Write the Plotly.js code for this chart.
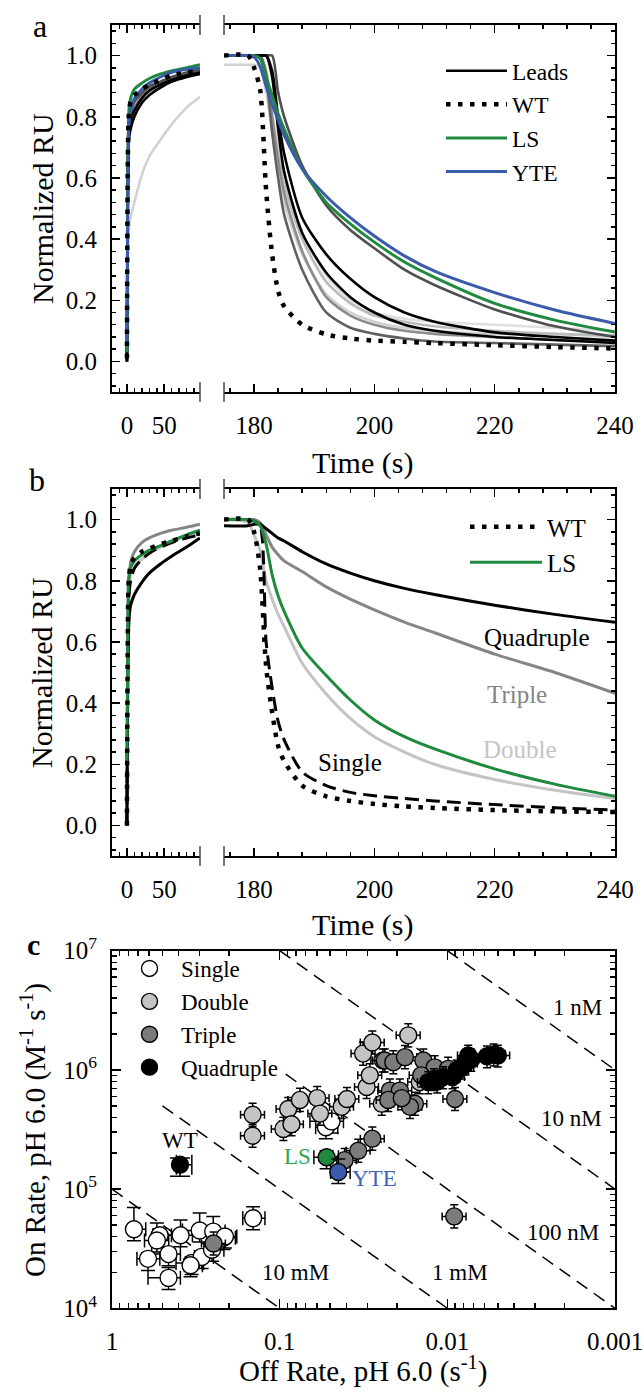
<!DOCTYPE html>
<html><head><meta charset="utf-8">
<script src="https://cdn.plot.ly/plotly-3.0.1.min.js"></script>
<style>
html,body{margin:0;padding:0;background:#fff}
#chart{width:643px;height:1395px}
</style>
</head><body><div id="chart"></div><script>
// ---------- time grids (s) ----------
const tAssoc  = [0, 1, 2, 3, 5, 10, 20, 30, 45, 60, 80, 98];
const tDissoc = [175, 179, 180, 181, 182, 183, 184, 185, 188, 192, 196, 200, 205, 210, 220, 230, 240];

// ---------- panel a : normalized RU ----------
const aWtAssoc   = [0.01, 0.60, 0.78, 0.82, 0.85, 0.87, 0.89, 0.905, 0.92, 0.935, 0.945, 0.95];
const aWtDissoc  = [1.0, 1.0, 0.96, 0.89, 0.56, 0.35, 0.23, 0.18, 0.12, 0.088, 0.075, 0.068, 0.064, 0.06, 0.053, 0.047, 0.042];
const aLsAssoc   = [0.03, 0.50, 0.78, 0.83, 0.86, 0.89, 0.91, 0.925, 0.94, 0.95, 0.96, 0.97];
const aLsDissoc  = [1.0, 1.0, 1.0, 0.99, 0.93, 0.87, 0.81, 0.76, 0.63, 0.52, 0.45, 0.39, 0.325, 0.275, 0.19, 0.135, 0.096];
const aYteAssoc  = [0.05, 0.45, 0.74, 0.78, 0.82, 0.86, 0.89, 0.91, 0.93, 0.945, 0.955, 0.96];
const aYteDissoc = [1.0, 1.0, 0.995, 0.965, 0.90, 0.84, 0.79, 0.74, 0.63, 0.54, 0.47, 0.41, 0.345, 0.295, 0.225, 0.168, 0.124];
const aLead1Assoc  = [0.0, 0.45, 0.68, 0.73, 0.76, 0.80, 0.845, 0.87, 0.895, 0.915, 0.93, 0.94];
const aLead1Dissoc = [1, 1, 1, 1, 1, 0.95, 0.80, 0.68, 0.47, 0.35, 0.27, 0.21, 0.16, 0.13, 0.095, 0.08, 0.068];
const aLead2Assoc  = [0.0, 0.50, 0.72, 0.76, 0.79, 0.82, 0.86, 0.885, 0.905, 0.92, 0.935, 0.945];
const aLead2Dissoc = [1, 1, 1, 1, 1, 0.93, 0.76, 0.62, 0.42, 0.29, 0.21, 0.16, 0.12, 0.10, 0.08, 0.07, 0.06];
const aLead3Assoc  = [0.0, 0.50, 0.74, 0.78, 0.81, 0.85, 0.88, 0.90, 0.915, 0.93, 0.945, 0.955];
const aLead3Dissoc = [1, 1, 1, 1, 1, 1, 0.88, 0.80, 0.64, 0.51, 0.43, 0.37, 0.30, 0.25, 0.17, 0.115, 0.08];
const aLead4Assoc  = [0.0, 0.55, 0.75, 0.79, 0.82, 0.85, 0.875, 0.895, 0.91, 0.925, 0.94, 0.95];
const aLead4Dissoc = [1, 1, 1, 1, 0.93, 0.75, 0.60, 0.48, 0.30, 0.16, 0.11, 0.09, 0.075, 0.065, 0.06, 0.055, 0.05];
const aLead5Assoc  = [0.0, 0.50, 0.72, 0.77, 0.80, 0.83, 0.865, 0.885, 0.90, 0.915, 0.93, 0.94];
const aLead5Dissoc = [1, 1, 1, 1, 0.95, 0.80, 0.66, 0.55, 0.36, 0.21, 0.15, 0.12, 0.10, 0.09, 0.08, 0.07, 0.065];
const aLead6Assoc  = [0.0, 0.28, 0.40, 0.44, 0.47, 0.52, 0.61, 0.67, 0.725, 0.775, 0.83, 0.865];
const aLead6Dissoc = [0.97, 0.97, 0.97, 0.96, 0.88, 0.75, 0.62, 0.52, 0.35, 0.22, 0.16, 0.13, 0.11, 0.10, 0.09, 0.09, 0.08];
const aLead7Assoc  = [0.0, 0.50, 0.70, 0.75, 0.79, 0.83, 0.86, 0.88, 0.90, 0.92, 0.935, 0.945];
const aLead7Dissoc = [1, 1, 1, 1, 0.94, 0.80, 0.68, 0.58, 0.40, 0.26, 0.19, 0.15, 0.13, 0.115, 0.10, 0.09, 0.085];
const aLead8Assoc  = [0.0, 0.50, 0.72, 0.77, 0.80, 0.84, 0.87, 0.89, 0.905, 0.92, 0.935, 0.945];
const aLead8Dissoc = [1, 1, 1, 1, 0.95, 0.82, 0.70, 0.60, 0.42, 0.28, 0.20, 0.16, 0.14, 0.13, 0.12, 0.11, 0.10];

// ---------- panel b ----------
const bWtAssoc      = [0.0, 0.55, 0.78, 0.82, 0.85, 0.875, 0.895, 0.905, 0.92, 0.93, 0.945, 0.955];
const bWtDissoc     = [1, 1, 0.96, 0.84, 0.52, 0.37, 0.26, 0.21, 0.13, 0.095, 0.08, 0.07, 0.062, 0.057, 0.05, 0.046, 0.044];
const bSingleAssoc  = [0.0, 0.50, 0.70, 0.76, 0.80, 0.84, 0.87, 0.89, 0.91, 0.925, 0.94, 0.95];
const bSingleDissoc = [1, 1, 0.995, 0.98, 0.60, 0.45, 0.34, 0.28, 0.175, 0.13, 0.108, 0.097, 0.088, 0.08, 0.068, 0.058, 0.05];
const bDoubleAssoc  = [0.0, 0.50, 0.72, 0.78, 0.82, 0.85, 0.87, 0.89, 0.91, 0.93, 0.945, 0.955];
const bDoubleDissoc = [1, 0.99, 0.95, 0.90, 0.80, 0.74, 0.69, 0.65, 0.53, 0.43, 0.35, 0.29, 0.24, 0.20, 0.15, 0.115, 0.088];
const bTripleAssoc  = [0.0, 0.45, 0.70, 0.80, 0.86, 0.895, 0.925, 0.94, 0.955, 0.965, 0.975, 0.985];
const bTripleDissoc = [1, 1, 1, 0.99, 0.95, 0.91, 0.885, 0.865, 0.83, 0.78, 0.74, 0.705, 0.665, 0.63, 0.56, 0.50, 0.432];
const bQuadAssoc    = [0.0, 0.45, 0.62, 0.68, 0.72, 0.755, 0.795, 0.825, 0.855, 0.88, 0.91, 0.94];
const bQuadDissoc   = [0.98, 0.98, 0.985, 0.985, 0.97, 0.955, 0.94, 0.93, 0.895, 0.855, 0.825, 0.80, 0.775, 0.755, 0.72, 0.69, 0.664];
const bLsAssoc      = [0.2, 0.55, 0.80, 0.82, 0.845, 0.865, 0.885, 0.90, 0.915, 0.93, 0.95, 0.965];
const bLsDissoc     = [1, 1, 0.995, 0.98, 0.92, 0.82, 0.75, 0.70, 0.58, 0.49, 0.41, 0.345, 0.29, 0.25, 0.185, 0.135, 0.095];

// ---------- panel c : kinetic rates ----------
const singleKoff    = [0.74, 0.61, 0.46, 0.46, 0.52, 0.39, 0.335, 0.30, 0.292, 0.253, 0.216, 0.249, 0.212, 0.144, 0.54, 0.34, 0.053, 0.049];
const singleKon     = [4.6e4, 2.6e4, 2.85e4, 1.8e4, 4.1e4, 4.1e4, 2.4e4, 4.5e4, 2.7e4, 3.1e4, 3.9e4, 4.4e4, 4.0e4, 5.7e4, 3.7e4, 2.3e4, 3.3e5, 3.7e5];
const singleKonErr  = [2.4e4, 0.3e4, 0.3e4, 0.4e4, 0.5e4, 1.4e4, 0.3e4, 1.8e4, 0.3e4, 0.4e4, 0.5e4, 1.5e4, 0.5e4, 1.4e4, 1.5e4, 0.3e4, 0.6e5, 0.4e5];
const singleKoffErr = [0.05, 0.10, 0.12, 0.15, 0.05, 0.14, 0.08, 0.08, 0.03, 0.03, 0.03, 0.06, 0.03, 0.022, 0.10, 0.03, 0.008, 0.017];
const doubleKoff = [0.145, 0.145, 0.095, 0.089, 0.085, 0.0757, 0.0597, 0.0575, 0.0427, 0.0397, 0.0303, 0.029, 0.0318, 0.028, 0.0246, 0.0242, 0.0171, 0.0146];
const doubleKon  = [4.2e5, 2.8e5, 3.2e5, 4.7e5, 3.5e5, 5.6e5, 5.8e5, 4.3e5, 4.9e5, 5.7e5, 7.2e5, 9.0e5, 1.37e6, 1.7e6, 5.2e5, 1.2e6, 1.95e6, 7.9e5];
const tripleKoff = [0.248, 0.028, 0.034, 0.041, 0.0236, 0.021, 0.0179, 0.0139, 0.0119, 0.0099, 0.0143, 0.022, 0.0192, 0.0225, 0.0156, 0.0167, 0.009, 0.0091, 0.0187];
const tripleKon  = [3.5e4, 2.65e5, 2.1e5, 1.75e5, 1.2e6, 1.16e6, 1.28e6, 1.2e6, 1.05e6, 1.02e6, 9.0e5, 6.7e5, 6.7e5, 5.6e5, 5.2e5, 4.9e5, 5.7e5, 5.9e4, 5.8e5];
const quadKoff   = [0.013, 0.012, 0.0115, 0.0106, 0.0093, 0.0088, 0.0082, 0.0078, 0.0075, 0.0072, 0.0058, 0.0053, 0.005];
const quadKon    = [7.9e5, 8.4e5, 8.0e5, 8.7e5, 8.7e5, 9.9e5, 1.05e6, 1.13e6, 1.32e6, 1.22e6, 1.3e6, 1.35e6, 1.32e6];
const wtKoff = [0.393], wtKon = [1.6e5];
const lsKoff = [0.0525], lsKon = [1.85e5];
const yteKoff = [0.0447], yteKon = [1.39e5];
// iso-affinity lines (KD, M) and the koff span where each is drawn
const kdValues    = [1e-9, 1e-8, 1e-7, 1e-6, 1e-5];
const kdKoffStart = [0.01, 0.1, 0.092, 0.5, 1];
const kdKoffEnd   = [0.001, 0.001, 0.001, 0.01, 0.1];
const kdLabels    = ['1 nM', '10 nM', '100 nM', '1 mM', '10 mM'];

// ---------- styling / layout helpers ----------
const FONT = '"Liberation Serif", "Times New Roman", Times, serif';
const W = 643, H = 1395;
const px = v => v / W, py = v => 1 - v / H;
const GREEN = '#1f8a3e', BLUE = '#3a5aab';
const L = {x0:112, x1:200, x2:224, x3:615, aTop:25, aBot:392, bTop:489, bBot:856, cTop:950.7, cBot:1308.3};

const traces = [];
function curve(x, y, xa, ya, color, width, dash, extra) {
  traces.push(Object.assign({x, y, xaxis: xa, yaxis: ya, mode: 'lines', type: 'scatter',
    line: {color, width, dash: dash || 'solid', shape: 'spline', smoothing: 0.7}, showlegend: false, hoverinfo: 'skip'}, extra || {}));
}
const DOT = '4.5px,7.5px';

// panel a
const aLeads = [
  [aLead6Assoc, aLead6Dissoc, '#d2d2d2'], [aLead8Assoc, aLead8Dissoc, '#e0e0e0'],
  [aLead7Assoc, aLead7Dissoc, '#bcbcbc'], [aLead5Assoc, aLead5Dissoc, '#8c8c8c'],
  [aLead4Assoc, aLead4Dissoc, '#606060'], [aLead3Assoc, aLead3Dissoc, '#4f4f4f'],
  [aLead2Assoc, aLead2Dissoc, '#000000'], [aLead1Assoc, aLead1Dissoc, '#000000']
];
aLeads.forEach((s, i) => {
  curve(tAssoc, s[0], 'x', 'y', s[2], 2.6);
  const leg = i === aLeads.length - 1 ? {showlegend: true, name: 'Leads', legend: 'legend', legendrank: 1} : {};
  curve(tDissoc, s[1], 'x2', 'y2', s[2], 2.6, null, leg);
});
curve(tAssoc, aLsAssoc, 'x', 'y', GREEN, 3);
curve(tDissoc, aLsDissoc, 'x2', 'y2', GREEN, 3, null, {showlegend: true, name: 'LS', legend: 'legend', legendrank: 3});
curve(tAssoc, aYteAssoc, 'x', 'y', BLUE, 3);
curve(tDissoc, aYteDissoc, 'x2', 'y2', BLUE, 3, null, {showlegend: true, name: 'YTE', legend: 'legend', legendrank: 4});
curve(tAssoc, aWtAssoc, 'x', 'y', '#000', 4.5, DOT);
curve(tDissoc, aWtDissoc, 'x2', 'y2', '#000', 4.5, DOT, {showlegend: true, name: 'WT', legend: 'legend', legendrank: 2});

// panel b
curve(tAssoc, bDoubleAssoc, 'x3', 'y3', '#c4c4c4', 3);
curve(tDissoc, bDoubleDissoc, 'x4', 'y4', '#c4c4c4', 3);
curve(tAssoc, bTripleAssoc, 'x3', 'y3', '#858585', 3);
curve(tDissoc, bTripleDissoc, 'x4', 'y4', '#858585', 3);
curve(tAssoc, bQuadAssoc, 'x3', 'y3', '#000', 3);
curve(tDissoc, bQuadDissoc, 'x4', 'y4', '#000', 3);
curve(tAssoc, bSingleAssoc, 'x3', 'y3', '#000', 3, '14px,7px');
curve(tDissoc, bSingleDissoc, 'x4', 'y4', '#000', 3, '14px,7px');
curve(tAssoc, bLsAssoc, 'x3', 'y3', GREEN, 3);
curve(tDissoc, bLsDissoc, 'x4', 'y4', GREEN, 3, null, {showlegend: true, name: 'LS', legend: 'legend2', legendrank: 2});
curve(tAssoc, bWtAssoc, 'x3', 'y3', '#000', 4.5, DOT);
curve(tDissoc, bWtDissoc, 'x4', 'y4', '#000', 4.5, DOT, {showlegend: true, name: 'WT', legend: 'legend2', legendrank: 1});

// panel c : KD lines
kdValues.forEach((kd, i) => {
  const xs = [kdKoffStart[i], kdKoffEnd[i]];
  traces.push({x: xs, y: xs.map(k => k / kd), xaxis: 'x5', yaxis: 'y5', mode: 'lines', type: 'scatter',
    line: {color: '#000', width: 1.5, dash: '13px,8px'}, showlegend: false, hoverinfo: 'skip'});
});
function pts(koff, kon, fill, name, konUp, koffUp, relK, relO, capW, show) {
  const ku = konUp || kon.map(v => v * relK);
  const ou = koffUp || koff.map(v => v * relO);
  traces.push({x: koff, y: kon, xaxis: 'x5', yaxis: 'y5', mode: 'markers', type: 'scatter', name,
    marker: {size: 17, color: fill, line: {color: '#000', width: 1.4}},
    error_y: {type: 'data', symmetric: false, array: ku, arrayminus: kon.map(v => v * 0.2), color: '#000', thickness: 1.5, width: capW},
    error_x: {type: 'data', symmetric: false, array: ou, arrayminus: koff.map(v => v * 0.15), color: '#000', thickness: 1.5, width: capW},
    showlegend: !!show, legend: 'legend3', hoverinfo: 'skip'});
}
pts(singleKoff, singleKon, '#ffffff', 'Single', singleKonErr, singleKoffErr, 0, 0, 7, true);
pts(doubleKoff, doubleKon, '#c4c4c4', 'Double', null, null, 0.25, 0.18, 4, true);
pts(tripleKoff, tripleKon, '#7b7b7b', 'Triple', null, null, 0.25, 0.18, 4, true);
pts(quadKoff, quadKon, '#000000', 'Quadruple', null, null, 0.22, 0.16, 4, true);
pts(wtKoff, wtKon, '#000000', 'WT', [2.2e4], [0.02], 0, 0, 10, false);
pts(lsKoff, lsKon, GREEN, 'LS', [2.5e4], [0.01], 0, 0, 7, false);
pts(yteKoff, yteKon, BLUE, 'YTE', [4e4], [0.005], 0, 0, 7, false);

// ---------- axes ----------
const tickFont = {family: FONT, size: 25, color: '#000'};
function ax(o) {
  return Object.assign({showline: true, linecolor: '#000', linewidth: 2, ticks: 'inside', ticklen: 8, tickwidth: 1.5,
    tickcolor: '#000', showgrid: false, zeroline: false, tickfont: tickFont, fixedrange: true, ticklabeloverflow: 'allow'}, o);
}
const minorLin = (tick0, dtick) => ({ticks: 'inside', ticklen: 4, tickwidth: 1.5, tickcolor: '#000', showgrid: false, tick0, dtick});
const decadesX = [0.001, 0.01, 0.1], decadesY = [1e4, 1e5, 1e6];
const mult = [2, 3, 4, 5, 6, 7, 8, 9];
const minorX = [].concat(...decadesX.map(d => mult.map(m => m * d)));
const minorY = [].concat(...decadesY.map(d => mult.map(m => m * d)));

const yRange = [-0.1, 1.1];
const layout = {
  width: W, height: H, margin: {l: 0, r: 0, t: 0, b: 0}, paper_bgcolor: '#fff', plot_bgcolor: 'rgba(0,0,0,0)',
  font: {family: FONT, color: '#000'},
  xaxis:  ax({domain: [px(L.x0), px(L.x1)], anchor: 'y', range: [-20, 98], tick0: 0, dtick: 50, mirror: 'ticks', minor: minorLin(0, 10), ticklabelstandoff: 10}),
  yaxis:  ax({domain: [py(L.aBot), py(L.aTop)], anchor: 'x', range: yRange, tick0: 0, dtick: 0.2, tickformat: '.1f', minor: minorLin(0, 0.04), ticklabelstandoff: 8}),
  xaxis2: ax({domain: [px(L.x2), px(L.x3)], anchor: 'y2', range: [175, 240], tick0: 180, dtick: 20, mirror: 'ticks', minor: minorLin(180, 4), ticklabelstandoff: 10}),
  yaxis2: ax({domain: [py(L.aBot), py(L.aTop)], anchor: 'x2', side: 'right', range: yRange, tick0: 0, dtick: 0.2, showticklabels: false, minor: minorLin(0, 0.04)}),
  xaxis3: ax({domain: [px(L.x0), px(L.x1)], anchor: 'y3', range: [-20, 98], tick0: 0, dtick: 50, mirror: 'ticks', minor: minorLin(0, 10), ticklabelstandoff: 10}),
  yaxis3: ax({domain: [py(L.bBot), py(L.bTop)], anchor: 'x3', range: yRange, tick0: 0, dtick: 0.2, tickformat: '.1f', minor: minorLin(0, 0.04), ticklabelstandoff: 8}),
  xaxis4: ax({domain: [px(L.x2), px(L.x3)], anchor: 'y4', range: [175, 240], tick0: 180, dtick: 20, mirror: 'ticks', minor: minorLin(180, 4), ticklabelstandoff: 10}),
  yaxis4: ax({domain: [py(L.bBot), py(L.bTop)], anchor: 'x4', side: 'right', range: yRange, tick0: 0, dtick: 0.2, showticklabels: false, minor: minorLin(0, 0.04)}),
  xaxis5: ax({domain: [px(L.x0), px(L.x3)], anchor: 'y5', type: 'log', range: [0, -3], mirror: 'ticks', ticklen: 9,
    tickmode: 'array', tickvals: [1, 0.1, 0.01, 0.001], ticktext: ['1', '0.1', '0.01', '0.001'], ticklabelstandoff: 10,
    minor: {ticks: 'inside', ticklen: 5, tickwidth: 1.5, tickcolor: '#000', showgrid: false, tickmode: 'array', tickvals: minorX}}),
  yaxis5: ax({domain: [py(L.cBot), py(L.cTop)], anchor: 'x5', type: 'log', range: [4, 7], mirror: 'ticks', ticklen: 9,
    tickmode: 'array', tickvals: [1e4, 1e5, 1e6, 1e7], ticktext: ['10<sup>4</sup>', '10<sup>5</sup>', '10<sup>6</sup>', '10<sup>7</sup>'], ticklabelstandoff: 8,
    minor: {ticks: 'inside', ticklen: 5, tickwidth: 1.5, tickcolor: '#000', showgrid: false, tickmode: 'array', tickvals: minorY}}),
  legend:  {x: px(441), y: py(49), xanchor: 'left', yanchor: 'top', bgcolor: 'rgba(0,0,0,0)', font: {family: FONT, size: 23.5}, itemwidth: 61, traceorder: 'normal'},
  legend2: {x: px(465), y: py(504), xanchor: 'left', yanchor: 'top', bgcolor: 'rgba(0,0,0,0)', font: {family: FONT, size: 25}, itemwidth: 72, traceorder: 'normal'},
  legend3: {x: px(118), y: py(947), xanchor: 'left', yanchor: 'top', bgcolor: 'rgba(0,0,0,0)', font: {family: FONT, size: 23}, itemwidth: 53, traceorder: 'normal'},
  showlegend: true
};

// ---------- text ----------
const ann = [];
function pa(text, x, y, size, o) {
  ann.push(Object.assign({text, x: px(x), y: py(y), xref: 'paper', yref: 'paper', showarrow: false,
    xanchor: 'center', yanchor: 'middle', font: {family: FONT, size, color: '#000'}}, o || {}));
}
pa('a', 40, 26, 32);
pa('b', 37, 480, 32);
pa('<b>c</b>', 33, 944, 30);
pa('Normalized RU', 42, 209, 30, {textangle: -90});
pa('Normalized RU', 41, 673, 30, {textangle: -90});
pa('Time (s)', 362, 463, 30);
pa('Time (s)', 362, 925, 30);
pa('On Rate, pH 6.0 (M<sup>-1</sup> s<sup>-1</sup>)', 33, 1130, 29, {textangle: -90});
pa('Off Rate, pH 6.0 (s<sup>-1</sup>)', 363, 1369, 29);
pa('Quadruple', 537, 637, 25);
pa('Triple', 517, 695, 25, {font: {family: FONT, size: 25, color: '#858585'}});
pa('Double', 520, 749, 25, {font: {family: FONT, size: 25, color: '#c4c4c4'}});
pa('Single', 350, 762, 25);
// panel c labels in data (log10) coordinates
const kdLabelPos = [[-2.779, 6.523], [-2.743, 5.594], [-2.689, 4.639], [-2.075, 4.304], [-1.097, 4.304]];
kdLabels.forEach((t, i) => ann.push({text: t, x: kdLabelPos[i][0], y: kdLabelPos[i][1], xref: 'x5', yref: 'y5', showarrow: false,
  font: {family: FONT, size: 23, color: '#000'}}));
ann.push({text: 'WT', x: -0.407, y: 5.41, xref: 'x5', yref: 'y5', showarrow: false, font: {family: FONT, size: 23, color: '#000'}});
ann.push({text: 'LS', x: -1.109, y: 5.27, xref: 'x5', yref: 'y5', showarrow: false, font: {family: FONT, size: 23, color: '#2ea84a'}});
ann.push({text: 'YTE', x: -1.568, y: 5.089, xref: 'x5', yref: 'y5', showarrow: false, font: {family: FONT, size: 23, color: '#3f62c0'}});
layout.annotations = ann;

// axis-break marks
const shapes = [];
[[L.aTop, L.aBot], [L.bTop, L.bBot]].forEach(([t, b]) => {
  [L.x1, L.x2].forEach(xp => {
    [t, b].forEach(yp => shapes.push({type: 'line', xref: 'paper', yref: 'paper', x0: px(xp), x1: px(xp),
      y0: py(yp - 10), y1: py(yp + 10), line: {color: '#444', width: 1.5}}));
  });
});
layout.shapes = shapes;

Plotly.newPlot('chart', traces, layout, {staticPlot: true, displayModeBar: false});
</script></body></html>
